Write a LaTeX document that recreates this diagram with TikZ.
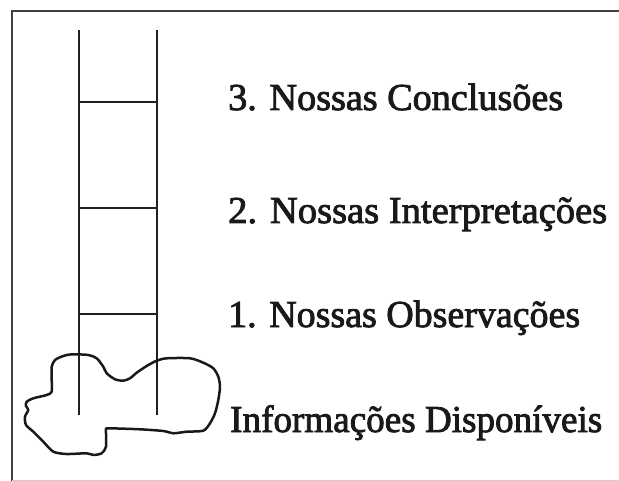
\documentclass[tikz,border=0pt]{standalone}
\usepackage{fontspec}
\setmainfont{Liberation Serif}
\newfontfamily\lblfont{Liberation Serif}[UprightFeatures={FakeBold=2.2}]
% set a label at a given width, keeping its height
\newcommand\fitlabel[2]{\resizebox{#1}{\height}{#2}}
\begin{document}
\begin{tikzpicture}[x=1pt,y=-1pt,
  rail/.style={line width=2.8pt,draw=black!88},
  frameline/.style={line width=2.6pt,draw=black!75},
  blob/.style={line width=2.5pt,draw=black!90,line join=round},
  label/.style={anchor=base west,inner sep=0pt,font=\lblfont\fontsize{38}{40}\selectfont,text=black!90}]
\useasboundingbox (0,0) rectangle (619,481);
% frame (only top and left edges show)
\draw[frameline] (12,481) -- (12,11) -- (619,11);
\draw[black!20,line width=0.8pt] (12,480) -- (619,480);
% ladder rails and rungs
\coordinate (lt) at (79,30);
\coordinate (lb) at (79,415);
\coordinate (rt) at (157,30);
\coordinate (rb) at (157,415);
\draw[rail] (lt) -- (lb);
\draw[rail] (rt) -- (rb);
\foreach \y in {102,208,314}
  \draw[rail] (79,\y) -- (157,\y);
% hand-drawn blob round the foot of the ladder
\draw[blob] plot[smooth cycle,tension=0.45] coordinates {
 (51.7,366.7) (55,360) (63.3,356) (71.7,354.3) (88.3,355) (96.7,358.3)
 (103.3,366.7) (106.7,373.3) (115,379.3) (123.3,380.7) (130,378.3)
 (136.7,372.7) (146.7,366) (156.7,360.7) (166.7,358.3) (190,358.3)
 (203.3,362.7) (213.3,368.3) (218.3,376.7) (220,386.7) (218.3,400)
 (215,413.3) (210,423.3) (203.3,430.7) (186.7,431.7) (173.3,433.3)
 (163.3,431) (140,429.3) (110,428.3) (106,428.8) (106,433.3)
 (106,446.7) (101.7,453.3) (93.3,455) (86.7,453.3) (66.7,454)
 (53.3,451.7) (43.3,441.7) (33.3,431.7) (26,425) (25,416.7)
 (28.3,410) (26,406) (26.7,401.7) (33.3,398.3) (46.7,395)
 (51.7,391.7) (51.7,380)};
% level labels
\node[label] (l3) at (228,110) {\fitlabel{335pt}{3. Nossas Conclusões}};
\node[label] (l2) at (228,223) {\fitlabel{379pt}{2. Nossas Interpretações}};
\node[label] (l1) at (228,327) {\fitlabel{352pt}{1. Nossas Observações}};
\node[label] (l0) at (230,432) {\fitlabel{372pt}{Informações Disponíveis}};
\end{tikzpicture}
\end{document}
